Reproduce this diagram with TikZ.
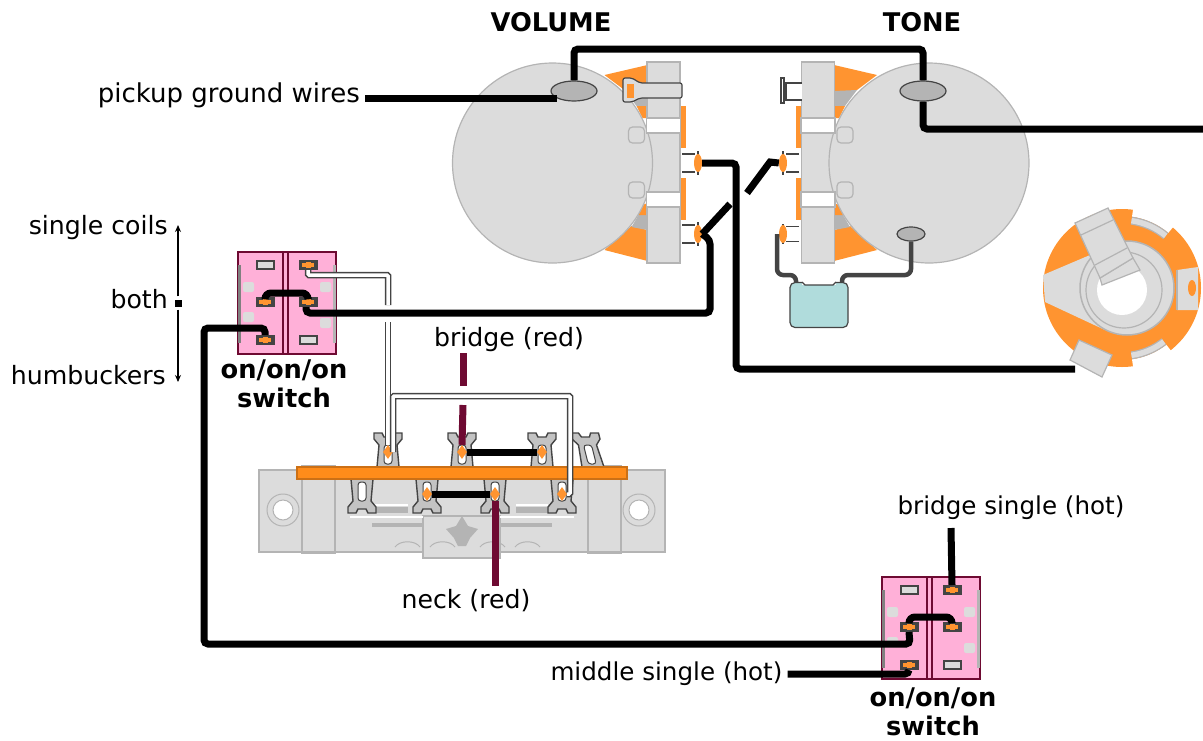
\documentclass[tikz,border=0pt]{standalone}
\usepackage{fontspec}
\setmainfont{DejaVu Sans}
\usetikzlibrary{shapes.geometric,arrows.meta}
\definecolor{potgray}{HTML}{DCDCDC}
\definecolor{edgegray}{HTML}{B4B4B4}
\definecolor{lugorange}{HTML}{FF9430}
\definecolor{barorange}{HTML}{FF8C1A}
\definecolor{swpink}{HTML}{FFB0D8}
\definecolor{maroon}{HTML}{6E0A32}
\definecolor{capteal}{HTML}{B0DCDC}
\definecolor{darkgray}{HTML}{444444}
\begin{document}
\begin{tikzpicture}[
        x=1pt,y=-1pt,
        lab/.style={font=\fontsize{25.2}{29}\selectfont,inner sep=0pt},
        boldlab/.style={font=\fontsize{25.7}{29}\selectfont\bfseries,inner sep=0pt},
        wire/.style={line width=7pt,black,rounded corners=4pt},
        redwire/.style={line width=7pt,maroon},
        shielded/.style={draw=darkgray,line width=1.5pt,double=white,double distance=3.5pt,rounded corners=1pt},
        lead/.style={line width=4.5pt,darkgray,rounded corners=6pt},
        ground/.style={ellipse,draw=darkgray,fill=edgegray,line width=1.2pt,inner sep=0pt},
        solder/.style={draw=none,fill=lugorange,diamond,minimum width=10pt,minimum height=14pt,inner sep=0pt},
        swlug/.style={rectangle,draw=darkgray,line width=2pt,minimum width=17pt,minimum height=8pt,inner sep=0pt},
        emptylug/.style={swlug,fill=potgray},
        hotlug/.style={swlug,fill=darkgray,path picture={
            \fill[lugorange] (path picture bounding box.center) ++(-6,-2) rectangle ++(12,4);
            \fill[lugorange] (path picture bounding box.center) ++(-2.5,-5) rectangle ++(5,10);
        }},
        potlug/.pic={
            \draw[darkgray,line width=1.3pt] (-16,-9) -- (-3,-9) (-16,9) -- (-3,9);
            \draw[darkgray,line width=1.5pt] (0,-12) -- (0,12);
            \node[ellipse,fill=lugorange,minimum width=8pt,minimum height=18pt,inner sep=0pt] (-lug) at (0,0) {};
        },
        potbody/.pic={
            \fill[lugorange] (52,-88) -- (95,-98) -- (95,-70) -- (72,-73) -- cycle;
            \fill[edgegray] (72,-73) -- (95,-72) -- (95,-57) -- (84,-57) -- cycle;
            \fill[lugorange] (84,-57) -- (95,-57) -- (95,-45) -- (90,-45) -- cycle;
            \fill[lugorange] (52,87) -- (95,98) -- (95,67) -- (79,63) -- cycle;
            \fill[edgegray] (79,64) -- (95,67) -- (95,52) -- (86,52) -- cycle;
            \fill[lugorange] (86,52) -- (95,52) -- (95,40) -- (90,42) -- cycle;
            \fill[lugorange] (127,-57) rectangle (133,-15);
            \fill[lugorange] (127,15) rectangle (133,57);
            \draw[edgegray,fill=potgray,line width=1.2pt] (94.5,-101) rectangle (127.5,100);
            \draw[edgegray,fill=potgray,line width=1.2pt] (0,0) circle (100);
            \foreach \y in {-36,19} {
                \draw[edgegray,fill=potgray,line width=1.2pt,rounded corners=4pt] (76,\y) -- (92,\y) -- (92,\y+16) -- (76,\y+16) -- cycle;
            }
            \foreach \y in {-45,29} {
                \draw[edgegray,fill=white,line width=1.2pt] (94,\y) rectangle (128,\y+15);
            }
        },
        eyelet/.pic={
            \draw[darkgray,fill=edgegray!80,line width=1.4pt] (-11,0) -- (-9,-22) -- (-14,-28) -- (-14,-34) -- (-6,-34) -- (-4,-30) -- (4,-30) -- (6,-34) -- (14,-34) -- (14,-28) -- (9,-22) -- (11,0) -- cycle;
            \draw[darkgray,fill=white,line width=1pt,rounded corners=3pt] (-4,-3) rectangle (4,-22);
            \coordinate (-eye) at (0,-15);
        },
        toggle/.pic={
            \draw[maroon,fill=swpink,line width=1.5pt] (0,0) rectangle (98,102);
            \draw[maroon,line width=1.5pt] (45,0) -- (45,102) (50,0) -- (50,102);
            \fill[gray] (0,13) rectangle (3,91);
            \fill[edgegray] (95,13) rectangle (98,91);
            \foreach \x/\y in {5/30,5/60,82/30,82/66} {
                \fill[potgray,rounded corners=2pt] (\x,\y) rectangle (\x+11,\y+10);
            }
            \node[emptylug] (-tl) at (27,13) {};
            \node[hotlug] (-tr) at (70,13) {};
            \node[hotlug] (-ml) at (27,50) {};
            \node[hotlug] (-mr) at (70,50) {};
            \node[hotlug] (-bl) at (27,88) {};
            \node[emptylug] (-br) at (70,88) {};
        }
    ]
    \useasboundingbox (0,0) rectangle (1203,740);

    % pots
    \pic (vol) at (552.5,163) {potbody};
    \pic[xscale=-1] (tone) at (929,163) {potbody};
    \draw[darkgray,fill=potgray,line width=1.2pt,rounded corners=2pt] (623,78) -- (632,78) -- (640,83) -- (682,83) -- (682,98) -- (640,98) -- (632,102) -- (623,102) -- cycle;
    \fill[lugorange] (627,84) rectangle (634,98);
    \draw[darkgray,fill=white,line width=1.2pt] (802,83) -- (786,83) -- (786,100) -- (802,100);
    \draw[darkgray,fill=white,line width=1.2pt] (781,78) rectangle (784,103);
    \pic (volmid) at (698,163) {potlug};
    \pic (volbot) at (698,234) {potlug};
    \pic[xscale=-1] (tonemid) at (783,163) {potlug};
    \pic[xscale=-1,yscale=0.8] (tonebot) at (783,234) {potlug};
    \node[ground,minimum width=46pt,minimum height=20pt] (volgnd) at (574,91) {};
    \node[ground,minimum width=46pt,minimum height=20pt] (tonegnd) at (923,91) {};
    \node[ground,minimum width=28pt,minimum height=14pt] (capgnd) at (911,234) {};

    % capacitor
    \node[draw=darkgray,fill=capteal,line width=1.2pt,rounded corners=5pt,minimum width=58pt,minimum height=45pt,inner sep=0pt] (cap) at (819,305) {};
    \fill[white] (802,281) rectangle (836,285);
    \draw[darkgray,line width=1.2pt] (802,282) -- (805,285) -- (833,285) -- (836,282);
    \coordinate (capa) at (796,275);
    \coordinate (capb) at (842,275);
    \draw[lead] (tonebot-lug) ++(-6,0) |- (capa) -- (capa |- cap.north);
    \draw[lead] (capgnd.south) |- (capb) -- (capb |- cap.north);

    % jack
    \fill[lugorange] (1122,288) circle (79);
    \fill[white] (1122,288) ++(52:82) arc (52:82:82) -- ++(262:10) arc (82:52:72) -- cycle;
    \fill[white] (1122,288) ++(-50:82) arc (-50:-82:82) -- ++(98:10) arc (-82:-50:72) -- cycle;
    \draw[edgegray,line width=8pt] (1122,288) ++(52:68) arc (52:82:68);
    \draw[potgray,line width=5.5pt] (1122,288) ++(52:68) arc (52:82:68);
    \draw[edgegray,line width=8pt] (1122,288) ++(-50:68) arc (-50:-82:68);
    \draw[potgray,line width=5.5pt] (1122,288) ++(-50:68) arc (-50:-82:68);
    \fill[potgray] (1043,275) -- (1090,255) -- (1105,330) -- (1045,302) -- cycle;
    \draw[edgegray,fill=potgray,line width=1.5pt] (1127,288) circle (47);
    \draw[edgegray,line width=1.2pt] (1124,290) circle (38);
    \fill[white] (1122,290) circle (25);
    \draw[edgegray,fill=potgray,line width=1.2pt] (1100,278) -- (1133,258) -- (1140,270) -- (1102,285) -- cycle;
    \draw[edgegray,fill=potgray,line width=1.2pt] (1075,223) -- (1108,208) -- (1133,258) -- (1100,278) -- cycle;
    \draw[edgegray,line width=1.2pt] (1081,235) -- (1113,220) (1095,265) -- (1127,248);
    \fill[potgray] (1177,270) -- (1198,267) -- (1198,310) -- (1177,310) -- cycle;
    \draw[edgegray,line width=1.2pt] (1177,270) -- (1177,310);
    \fill[lugorange] (1192,288) ellipse (4 and 8);
    \draw[edgegray,fill=potgray,line width=1.2pt] (1070,360) -- (1079,340) -- (1112,355) -- (1102,377) -- cycle;
    \coordinate (jacktab) at (1075,369);

    % switches
    \pic (swa) at (238,252) {toggle};
    \pic (swb) at (882,577) {toggle};

    % pickup
    \draw[edgegray,fill=potgray,line width=2pt] (259,470) rectangle (665,552);
    \foreach \x in {302,588} {
        \draw[edgegray,line width=2pt] (\x,466) rectangle (\x+33,553);
    }
    \foreach \x in {283,639} {
        \fill[white] (\x,510) circle (10);
        \draw[edgegray,line width=1pt] (\x,510) circle (10) (\x,510) circle (16);
    }
    \fill[edgegray] (372,523) rectangle (552,527);
    \fill[edgegray] (372,507) rectangle (408,513);
    \fill[edgegray] (516,507) rectangle (552,513);
    \draw[edgegray,fill=potgray,line width=1.5pt] (423,558) -- (423,516) -- (500,516) -- (500,558) -- cycle;
    \draw[white,line width=1.5pt] (350,517) -- (423,517) (500,517) -- (574,517) (372,505) -- (408,505) (516,505) -- (548,505);
    \fill[edgegray] (462,516) -- (468,526) -- (478,529) -- (470,538) -- (466,546) -- (458,546) -- (454,538) -- (446,529) -- (456,526) -- cycle;
    \foreach \x in {395,430,480,515} {
        \draw[edgegray,line width=1pt] (\x,547) .. controls (\x+5,540) and (\x+20,540) .. (\x+25,547);
    }
    \foreach \i/\x in {1/388,2/462,3/542} {
        \pic (top\i) at (\x,467) {eyelet};
    }
    \pic[xslant=-0.25] (top4) at (593,467) {eyelet};
    \foreach \i/\x in {1/362,2/427,3/495,4/562} {
        \pic[yscale=-1] (bot\i) at (\x,479) {eyelet};
    }
    \draw[barorange!80!black,fill=barorange,line width=1.5pt] (297,467) rectangle (627,479);
    \foreach \n in {top1,top2,top3,bot2,bot3,bot4} {
        \node[solder] (\n-dot) at (\n-eye) {};
    }

    % labels
    \node[boldlab] (vollab) at (551,22) {VOLUME};
    \node[boldlab] (tonelab) at (922,22) {TONE};
    \node[lab,anchor=east,font=\fontsize{26}{29}\selectfont] (pick) at (360,95) {pickup ground wires};
    \node[lab,anchor=east] (coils) at (168,228) {single coils};
    \node[lab,anchor=east] (both) at (168,299) {both};
    \node[lab,anchor=east] (humb) at (166,375) {humbuckers};
    \node[lab] (bridgelab) at (509,340) {bridge (red)};
    \node[lab] (necklab) at (466,601) {neck (red)};
    \node[lab,font=\fontsize{24.6}{29}\selectfont] (bslab) at (1011,508) {bridge single (hot)};
    \node[lab,font=\fontsize{24.6}{29}\selectfont] (mslab) at (666.5,674) {middle single (hot)};
    \node[boldlab,align=center] (swalab) at (284,383.5) {on/on/on\\switch};
    \node[boldlab,align=center] (swblab) at (933,712) {on/on/on\\switch};

    % selector
    \node[fill=black,minimum size=7pt,inner sep=0pt] (seldot) at (178,303) {};
    \coordinate (selup) at (178,225);
    \coordinate (seldown) at (178,382);
    \draw[-{Stealth[length=7pt,width=6pt]},line width=1.3pt,shorten <=3pt] (seldot) -- (selup);
    \draw[-{Stealth[length=7pt,width=6pt]},line width=1.3pt,shorten <=3pt] (seldot) -- (seldown);

    % shielded wires
    \coordinate (gapa) at (388,305);
    \coordinate (gapb) at (388,322);
    \coordinate (crossb) at (570,396);
    \draw[shielded] (swa-tr.south) |- (gapa |- 0,275) -- (gapa);
    \draw[shielded] (gapb) -- (top1-dot.north);
    \draw[shielded] (top1-dot.east) |- (crossb) |- (bot4-dot);

    % wires
    \coordinate (topbend) at (574,49);
    \draw[wire] (volgnd.north) -- (topbend) -| (tonegnd.north);
    \draw[wire] (tonegnd.south) |- (1203,129);
    \draw[wire] (pick.east |- volgnd.south west) ++(5,0) -- (volgnd.south west);
    \draw[wire] (volmid-lug.east) -| (736,369) -- (jacktab);
    \coordinate (diagc) at (770,162);
    \coordinate (diaga) at (747,193);
    \coordinate (diagb) at (730,204);
    \draw[line width=7pt] (tonemid-lug.west) -- (diagc) -- (diaga);
    \draw[line width=7pt] (diagb) -- (volbot-lug.east);
    \draw[wire] (volbot-lug.east) -- (710,240) -- (710,313) -- (306,313) -- (swa-mr.south -| 306,0);
    \draw[wire,rounded corners=6pt] (swa-ml.north) |- (287,293) -| (swa-mr.north);
    \draw[wire] (swa-bl.north) |- (204,328) |- (910,644) -- (swb-ml.south);
    \draw[wire,rounded corners=6pt] (swb-ml.north) |- (930,617) -| (swb-mr.north);
    \coordinate (bstop) at (951,528);
    \draw[wire] (bstop) -- (swb-tr.north);
    \draw[wire] (mslab.east) ++(5,0) -| (swb-bl.south);
    \draw[wire] (top2-dot) -- (top3-dot);
    \draw[wire] (bot2-dot) -- (bot3-dot);

    % red wires
    \coordinate (redtop) at (463,353);
    \coordinate (redgap) at (463,386);
    \coordinate (redmid) at (463,405);
    \coordinate (redend) at (495,586);
    \draw[redwire] (redtop) -- (redgap);
    \draw[redwire] (redmid) -- (top2-dot.north);
    \draw[redwire] (bot3-dot.south) -- (redend);
\end{tikzpicture}
\end{document}
